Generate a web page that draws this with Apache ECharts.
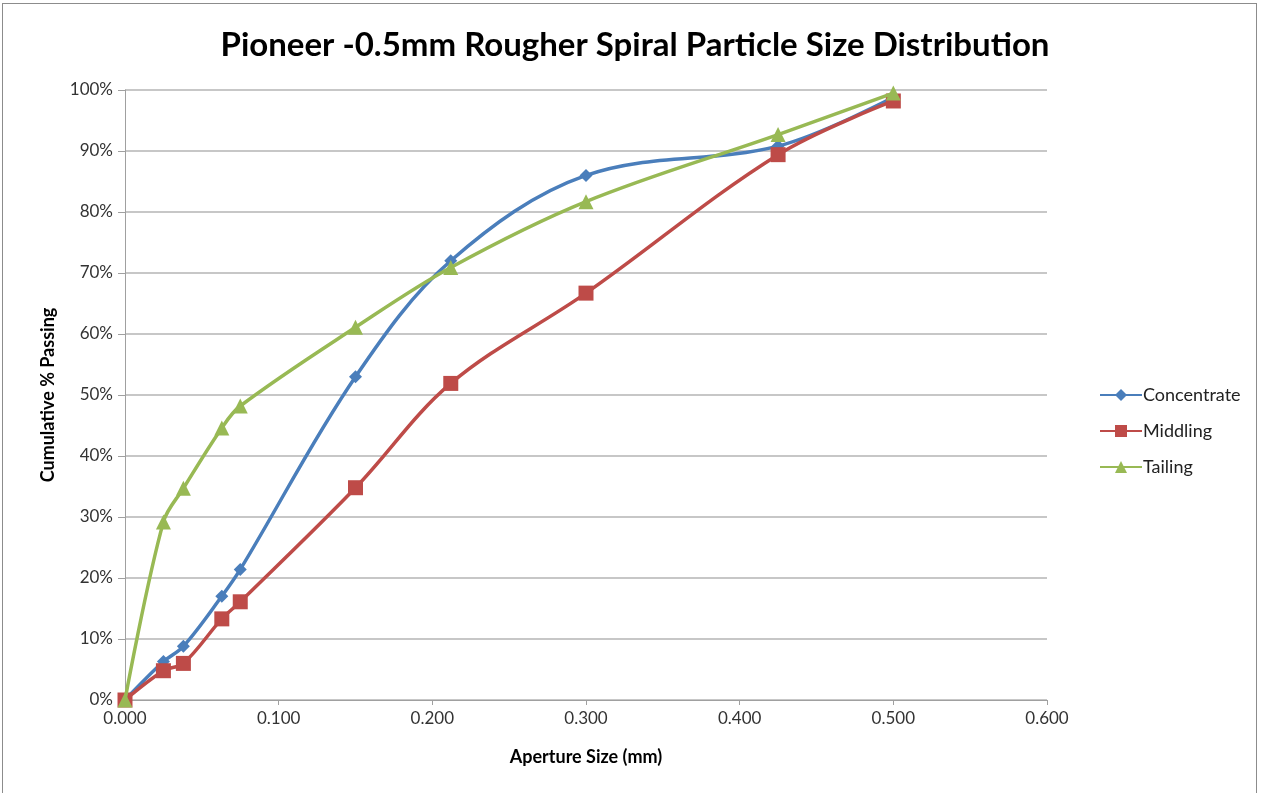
<!DOCTYPE html>
<html>
<head>
<meta charset="utf-8">
<script src="https://cdn.jsdelivr.net/npm/echarts@6/dist/echarts.min.js"></script>
<style>
  html, body { margin: 0; padding: 0; background: #fff; }
  #chart { position: absolute; left: 2px; top: 3px; width: 1255px; height: 800px; border: 1px solid #8c8c8c; box-sizing: border-box; }
</style>
</head>
<body>
<div id="chart"></div>
<script>
// aperture sizes (mm)
const sizes = [0, 0.025, 0.038, 0.063, 0.075, 0.150, 0.212, 0.300, 0.425, 0.500]
// cumulative % passing
const concentrate = [0, 6.3, 8.8, 17.0, 21.4, 53.0, 72.0, 86.0, 90.8, 98.8]
const middling = [0, 4.8, 6.0, 13.3, 16.1, 34.8, 51.9, 66.7, 89.4, 98.2]
const tailing = [0, 29.2, 34.7, 44.6, 48.2, 61.1, 70.9, 81.7, 92.7, 99.5]

const seriesNames = ['Concentrate', 'Middling', 'Tailing']
const seriesColors = ['#4a7ebb', '#be4b48', '#98b954']
const seriesSymbols = ['diamond', 'rect', 'triangle']
const symbolSizes = [13, 15, 15]

const pairs = arr => sizes.map((x, i) => [x, arr[i]])

const chart = echarts.init(document.getElementById('chart'))

const option = {
  animation: false,
  textStyle: { fontFamily: 'Lato, "Open Sans", sans-serif', color: '#000' },
  title: {
    text: 'Pioneer -0.5mm Rougher Spiral Particle Size Distribution',
    left: 627,
    top: 20,
    textAlign: 'center',
    textStyle: { fontSize: 33, fontWeight: 'bold', color: '#000', fontFamily: 'Lato, sans-serif' }
  },
  grid: { left: 122, right: 209, top: 86, bottom: 102, containLabel: false },
  legend: {
    orient: 'vertical',
    left: 1091,
    top: 377,
    itemWidth: 42,
    itemHeight: 15,
    itemGap: 18,
    itemStyle: { borderWidth: 0 },
    textStyle: { fontSize: 18, color: '#222', padding: [0, 0, 0, -4] },
    data: seriesNames
  },
  xAxis: {
    type: 'value',
    min: 0,
    max: 0.6,
    interval: 0.1,
    name: 'Aperture Size (mm)',
    nameLocation: 'middle',
    nameGap: 48,
    nameTextStyle: { fontSize: 18, fontWeight: 'bold', color: '#000' },
    axisLine: { show: true, lineStyle: { color: '#a0a0a0', width: 1 } },
    axisTick: { show: true, inside: false, length: 5, lineStyle: { color: '#a0a0a0' } },
    axisLabel: { fontSize: 17, color: '#333', margin: 10, formatter: v => v.toFixed(3) },
    splitLine: { show: false }
  },
  yAxis: {
    type: 'value',
    min: 0,
    max: 100,
    interval: 10,
    name: 'Cumulative % Passing',
    nameLocation: 'middle',
    nameGap: 68,
    nameTextStyle: { fontSize: 18, fontWeight: 'bold', color: '#000' },
    axisLine: { show: true, lineStyle: { color: '#a0a0a0', width: 1 } },
    axisTick: { show: true, length: 7, lineStyle: { color: '#a0a0a0' } },
    axisLabel: { fontSize: 17, color: '#333', margin: 12, formatter: '{value}%' },
    splitLine: { show: true, lineStyle: { color: '#b4b4b4', width: 1.5 } }
  },
  series: [concentrate, middling, tailing].map((arr, i) => ({
    name: seriesNames[i],
    type: 'line',
    data: pairs(arr),
    smooth: 0.35,
    symbol: seriesSymbols[i],
    symbolSize: symbolSizes[i],
    showAllSymbol: true,
    z: 3 + i,
    lineStyle: { color: seriesColors[i], width: 3.5 },
    itemStyle: { color: seriesColors[i], borderColor: seriesColors[i], borderWidth: 0 }
  }))
}

chart.setOption(option)
</script>
</body>
</html>
